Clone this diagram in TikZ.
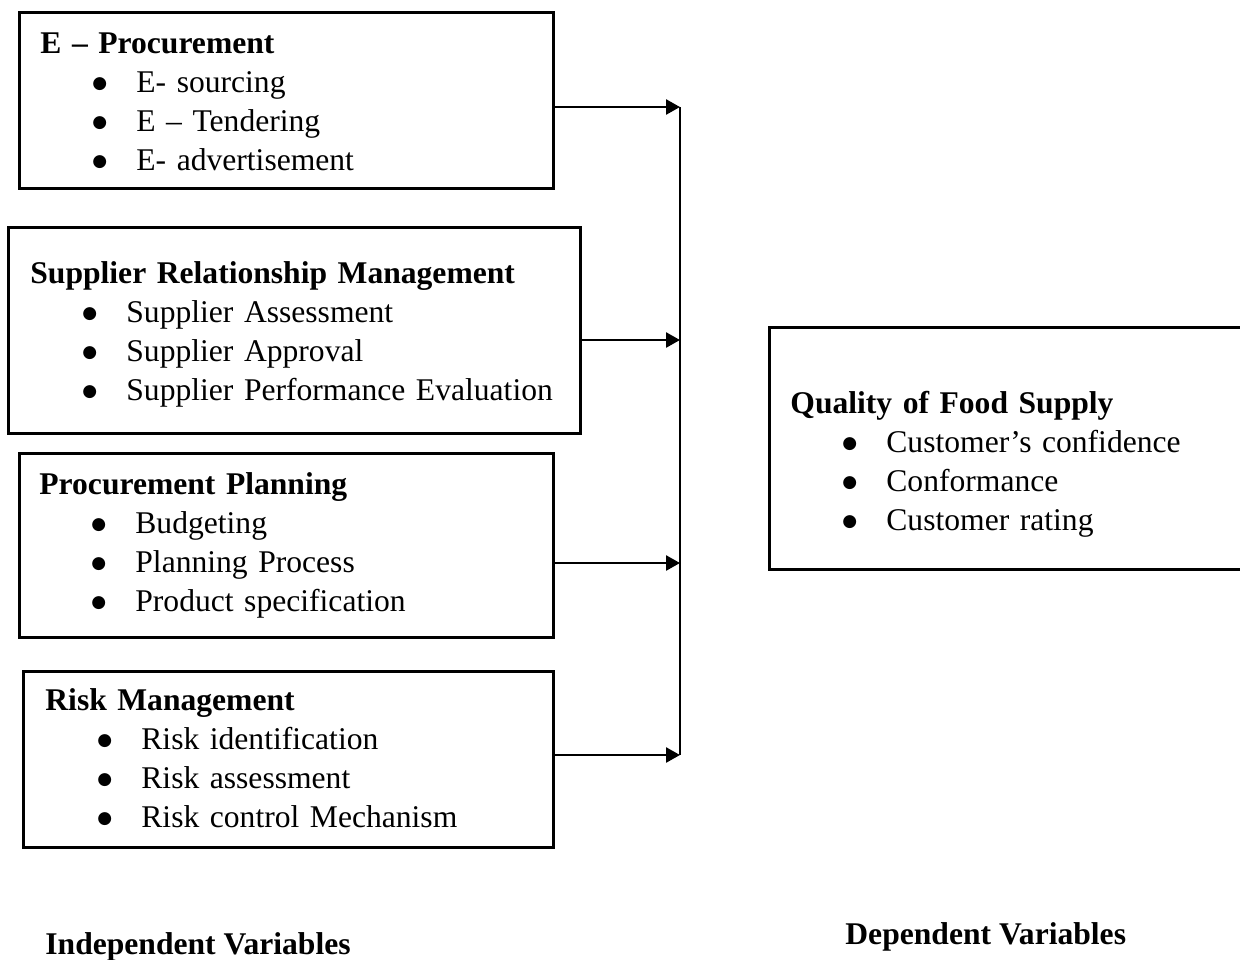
\documentclass[tikz,border=0pt]{standalone}
\usepackage{fontspec}
\setmainfont{Liberation Serif}
\newfontfamily\cfDotFont{DejaVu Sans}
\usetikzlibrary{arrows.meta}
\newcommand{\cfDot}{\raisebox{1.6pt}{\fontsize{8.5}{8.5}\cfDotFont ●}}
\newcommand{\cfItem}[1]{\\\hspace*{26pt}\makebox[22pt][l]{\cfDot}#1}
\begin{document}
\begin{tikzpicture}[
    x=0.5pt, y=-0.5pt,
    cfBox/.style={rectangle, draw=black, line width=1.5pt, inner sep=0pt, outer sep=0pt},
    cfText/.style={anchor=base west, inner sep=0pt, text width=300pt, align=left,
        font=\fontsize{15.8}{19.5}\selectfont},
    cfLabel/.style={anchor=base west, inner sep=0pt, font=\fontsize{15.8}{19.5}\selectfont\bfseries},
    cfArrow/.style={line width=1.3pt, -{Triangle[length=7pt,width=7.5pt]}},
    cfBus/.style={line width=1.3pt}
]
\useasboundingbox (0,0) rectangle (1240,959);

% independent variables
\node[cfBox, minimum width=267pt, minimum height=88pt] (epro) at (286,100) {};
\node[cfText] (eproText) at (40,53) {\textbf{E -- Procurement}
    \cfItem{E- sourcing}\cfItem{E -- Tendering}\cfItem{E- advertisement}};

\node[cfBox, minimum width=286pt, minimum height=103pt] (srm) at (294,330) {};
\node[cfText] (srmText) at (30,283) {\textbf{Supplier Relationship Management}
    \cfItem{Supplier Assessment}\cfItem{Supplier Approval}\cfItem{Supplier Performance Evaluation}};

\node[cfBox, minimum width=267pt, minimum height=92pt] (plan) at (286,545) {};
\node[cfText] (planText) at (39,494) {\textbf{Procurement Planning}
    \cfItem{Budgeting}\cfItem{Planning Process}\cfItem{Product specification}};

\node[cfBox, minimum width=265pt, minimum height=88pt] (risk) at (288,759) {};
\node[cfText] (riskText) at (45,710) {\textbf{Risk Management}
    \cfItem{Risk identification}\cfItem{Risk assessment}\cfItem{Risk control Mechanism}};

% dependent variable
\node[cfBox, minimum width=240.5pt, minimum height=121pt] (quality) at (1009.5,448) {};
\node[cfText] (qualityText) at (790,413) {\textbf{Quality of Food Supply}
    \cfItem{Customer's confidence}\cfItem{Conformance}\cfItem{Customer rating}};

% arrows into the bus line
\coordinate (bus1) at (680,107);
\coordinate (bus2) at (680,340);
\coordinate (bus3) at (680,563);
\coordinate (bus4) at (680,755);
\draw[cfBus] (bus1) -- (bus4);
\draw[cfArrow] (epro.east |- bus1) -- (bus1);
\draw[cfArrow] (srm.east |- bus2) -- (bus2);
\draw[cfArrow] (plan.east |- bus3) -- (bus3);
\draw[cfArrow] (risk.east |- bus4) -- (bus4);

% captions
\node[cfLabel] (indep) at (45,954) {Independent Variables};
\node[cfLabel] (dep) at (845,944) {Dependent Variables};
\end{tikzpicture}
\end{document}
